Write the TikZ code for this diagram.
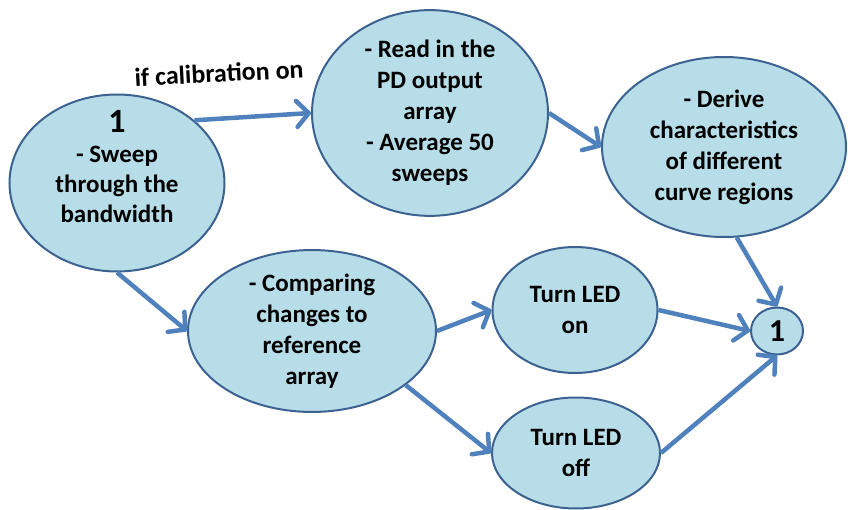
\documentclass[tikz,border=0pt]{standalone}
\usepackage{fontspec}
\setmainfont{Carlito}
\usepackage{tikz}
\usetikzlibrary{arrows.meta, shapes.geometric, positioning}
\definecolor{bubfill}{HTML}{B7DDE8}
\definecolor{bubline}{HTML}{3B6290}
\definecolor{flowc}{HTML}{4F81BD}
\tikzset{
  bubble/.style={ellipse, draw=bubline, fill=bubfill, line width=2pt,
                 inner sep=0pt, align=center},
  flow/.style={flowc, line width=4.5pt,
               -{Straight Barb[length=12pt, width=26pt, round]}},
}
\newcommand{\bubble}[5]{%
  \node[bubble, minimum width=#3, minimum height=#4] (#1) at #2 {#5};
}
\newcommand{\bignum}{{\fontsize{34}{30}\selectfont 1}}

\begin{document}
\begin{tikzpicture}[x=1pt, y=-1pt,
    font=\bfseries\fontsize{25}{31}\selectfont]
  \useasboundingbox (0,0) rectangle (848,510);
  \bubble{sweep}{(117,183)}{215pt}{177pt}{}
  % text of the first bubble sits above its centre
  \node[align=center, inner sep=0pt, font=\bfseries\fontsize{25}{30}\selectfont]
    (sweeptxt) at (117,167) {\bignum\\- Sweep\\through the\\bandwidth};
  \bubble{read}{(430,113)}{236pt}{201pt}{- Read in the\\PD output\\array\\- Average 50\\sweeps}
  \bubble{derive}{(724,147)}{244pt}{180pt}{- Derive\\characteristics\\of different\\curve regions}
  \bubble{compare}{(312,331)}{248pt}{148pt}{- Comparing\\changes to\\reference\\array}
  \bubble{ledon}{(575,310)}{165pt}{126pt}{Turn LED\\on}
  \bubble{ledoff}{(576,453)}{168pt}{111pt}{Turn LED\\off}
  \bubble{back}{(777,331)}{52pt}{47pt}{{\fontsize{32}{32}\selectfont 1}}
  \node[rotate=3, font=\bfseries\fontsize{26}{31}\selectfont] (calib)
    at (219,73) {if calibration on};
  % connectors
  \foreach \a/\b in {sweep.39/read.west, read.east/derive.west,
      sweep.south/compare.west, compare.east/ledon.west,
      compare.-30/ledoff.west, ledon.east/back.west,
      ledoff.east/back.south, derive.-82/back.north}
    \draw[flow] (\a) -- (\b);
\end{tikzpicture}
\end{document}
